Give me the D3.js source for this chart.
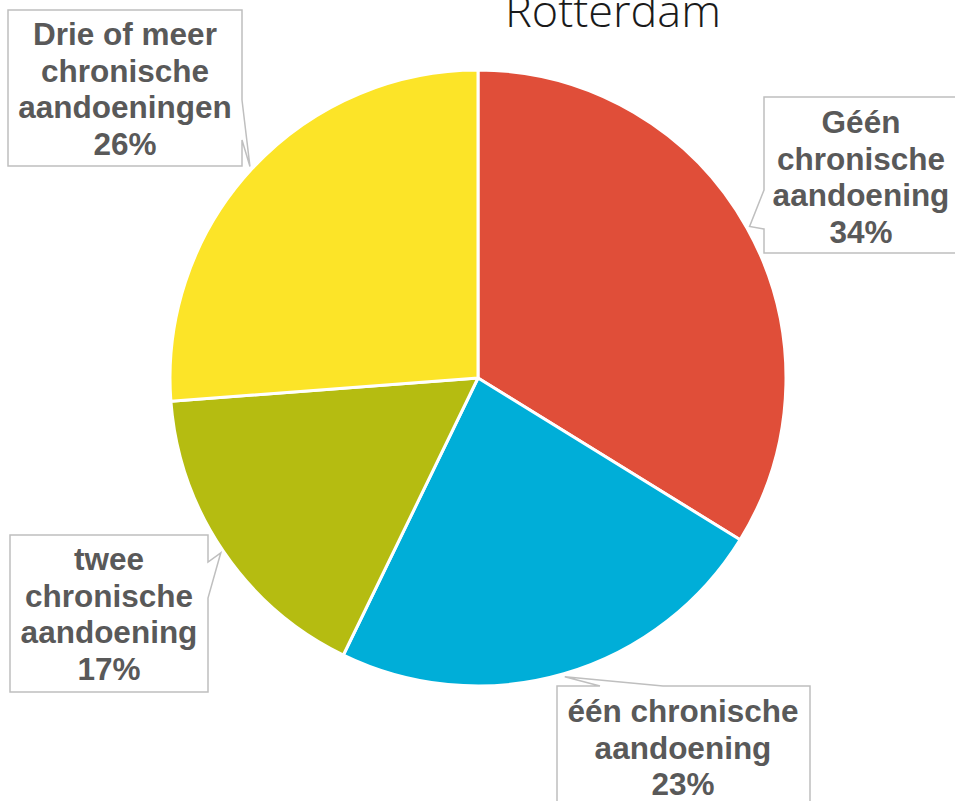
<!DOCTYPE html>
<html>
<head>
<meta charset="utf-8">
<script src="https://cdn.jsdelivr.net/npm/d3@7"></script>
<style>
  html, body { margin: 0; padding: 0; background: #fff; }
  svg { display: block; }
</style>
</head>
<body>
<div id="chart"></div>
<script>
// data
const categories = ['Géén chronische aandoening', 'één chronische aandoening', 'twee chronische aandoening', 'Drie of meer chronische aandoeningen'];
const labelLines = [
  ['Géén', 'chronische', 'aandoening'],
  ['één chronische', 'aandoening'],
  ['twee', 'chronische', 'aandoening'],
  ['Drie of meer', 'chronische', 'aandoeningen']
];
const values = [33.8, 23.4, 16.6, 26.2];
const colors = ['#E04E39', '#00AED8', '#B5BC11', '#FCE428'];
const title = 'Rotterdam';

// label box layout (callouts)
const boxes = [
  { x: 764, y: 97, w: 200, h: 156, side: 'left', b0: 190, b1: 229, cx: 861, ty: 133 },
  { x: 557, y: 686, w: 253, h: 130, side: 'top', b0: 600, b1: 663, cx: 683, ty: 722 },
  { x: 10, y: 535, w: 198, h: 157, side: 'right', b0: 562, b1: 598, cx: 109, ty: 570 },
  { x: 8, y: 10, w: 234, h: 156, side: 'right', b0: 100, b1: 140, cx: 125, ty: 45 }
];

const width = 955, height = 801;
const cx = 478, cy = 378, radius = 308;
const lineH = 36.5;

const svg = d3.select('#chart').append('svg')
  .attr('width', width).attr('height', height);

svg.append('text')
  .attr('x', 613).attr('y', 27)
  .attr('text-anchor', 'middle')
  .style('font-family', '"Open Sans", sans-serif')
  .style('font-weight', 300)
  .style('font-size', '45px')
  .style('fill', '#1a1a1a')
  .text(title);

const pie = d3.pie().sort(null).value(d => d);
const arcs = pie(values);
const arc = d3.arc().innerRadius(0).outerRadius(radius);
const tipArc = d3.arc().innerRadius(radius + 3).outerRadius(radius + 3);

const g = svg.append('g').attr('transform', `translate(${cx},${cy})`);

g.selectAll('path.slice').data(arcs).enter().append('path')
  .attr('class', 'slice')
  .attr('d', arc)
  .attr('fill', (d, i) => colors[i])
  .attr('stroke', '#fff')
  .attr('stroke-width', 3)
  .attr('stroke-linejoin', 'round');

function calloutPath(b, tip) {
  const x0 = b.x, y0 = b.y, x1 = b.x + b.w, y1 = b.y + b.h;
  const p = d3.path();
  if (b.side === 'right') {
    p.moveTo(x0, y0); p.lineTo(x1, y0); p.lineTo(x1, b.b0);
    p.lineTo(tip[0], tip[1]); p.lineTo(x1, b.b1);
    p.lineTo(x1, y1); p.lineTo(x0, y1);
  } else if (b.side === 'left') {
    p.moveTo(x1, y0); p.lineTo(x0, y0); p.lineTo(x0, b.b0);
    p.lineTo(tip[0], tip[1]); p.lineTo(x0, b.b1);
    p.lineTo(x0, y1); p.lineTo(x1, y1);
  } else {
    p.moveTo(x0, y1); p.lineTo(x0, y0); p.lineTo(b.b0, y0);
    p.lineTo(tip[0], tip[1]); p.lineTo(b.b1, y0);
    p.lineTo(x1, y0); p.lineTo(x1, y1);
  }
  p.closePath();
  return p.toString();
}

const fmt = d3.format('.0f');

arcs.forEach((d, i) => {
  const b = boxes[i];
  const c = tipArc.centroid(d);
  const tip = [c[0] + cx, c[1] + cy];
  svg.append('path')
    .attr('d', calloutPath(b, tip))
    .attr('fill', '#fff')
    .attr('stroke', '#BFBFBF')
    .attr('stroke-width', 1.5);

  const lines = labelLines[i].concat([fmt(d.data) + '%']);
  const t = svg.append('text')
    .attr('text-anchor', 'middle')
    .style('font-family', '"Liberation Sans", Arial, sans-serif')
    .style('font-weight', 'bold')
    .style('font-size', '31.5px')
    .style('fill', '#595959');
  lines.forEach((s, k) => {
    t.append('tspan').attr('x', b.cx).attr('y', b.ty + k * lineH).text(s);
  });
});
</script>
</body>
</html>
